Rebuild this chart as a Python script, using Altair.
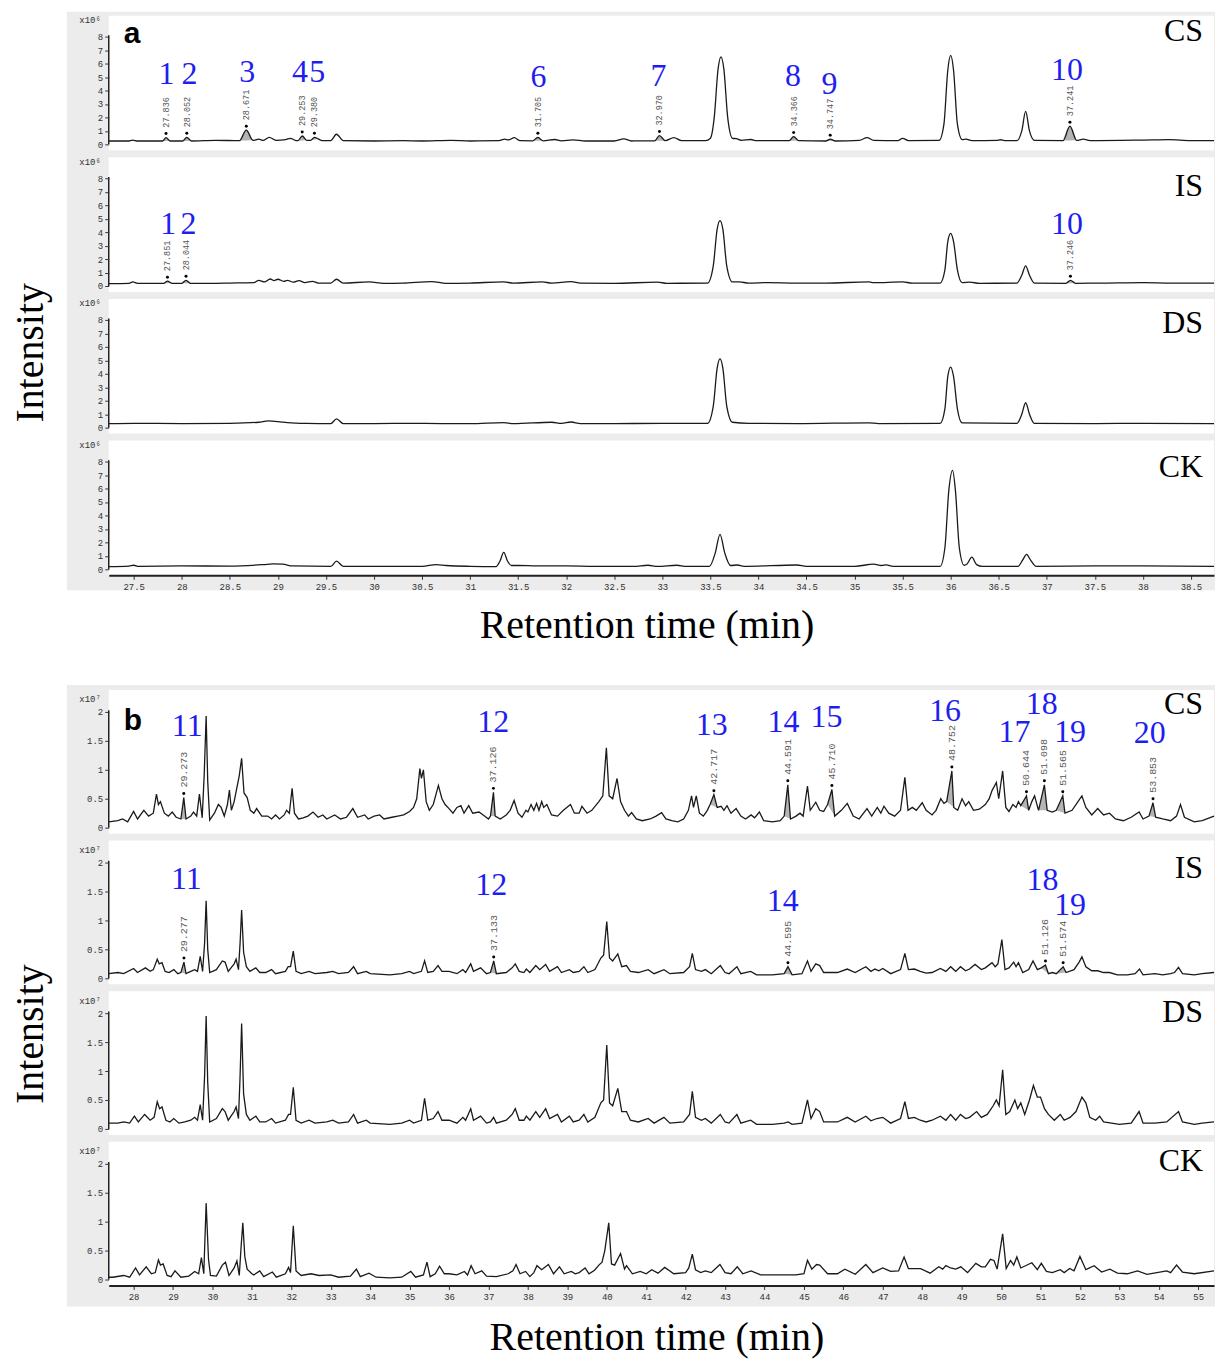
import altair as alt
import pandas as pd

BLUE = "#1e1ef0"
SERIF = "Liberation Serif"
MONO = "Liberation Mono"
SAMPLES = ["CS", "IS", "DS", "CK"]

# ---------------- axis ticks / domains ----------------
A_XTICKS = [27.5, 28, 28.5, 29, 29.5, 30, 30.5, 31, 31.5, 32, 32.5, 33, 33.5, 34,
            34.5, 35, 35.5, 36, 36.5, 37, 37.5, 38, 38.5]
B_XTICKS = [28, 29, 30, 31, 32, 33, 34, 35, 36, 37, 38, 39, 40, 41, 42, 43, 44, 45,
            46, 47, 48, 49, 50, 51, 52, 53, 54, 55]
A_YTICKS = [0, 1, 2, 3, 4, 5, 6, 7, 8]
B_YTICKS = [0, 0.5, 1, 1.5, 2]
A_XDOMAIN = [27.24, 38.74]
B_XDOMAIN = [27.37, 55.40]

# ---------------- panel a traces (time, intensity x10^6) ----------------
A_CS = [(27.24,0.25),(27.44,0.25),(27.49,0.32),(27.54,0.25),(27.80,0.25),(27.836,0.5),(27.88,0.25),
        (28.01,0.25),(28.052,0.52),(28.10,0.25),(28.35,0.3),(28.60,0.27),(28.671,1.05),(28.74,0.3),
        (28.80,0.38),(28.85,0.3),(28.91,0.52),(28.98,0.3),(29.08,0.35),(29.13,0.45),(29.18,0.3),
        (29.21,0.28),(29.253,0.62),(29.30,0.3),(29.34,0.3),(29.38,0.52),(29.42,0.4),(29.46,0.28),
        (29.55,0.28),(29.61,0.75),(29.68,0.27),(30.0,0.25),(30.3,0.27),(30.5,0.25),(30.8,0.3),
        (31.0,0.25),(31.30,0.27),(31.36,0.38),(31.40,0.33),(31.46,0.5),(31.52,0.27),(31.65,0.26),
        (31.705,0.52),(31.76,0.26),(31.88,0.36),(31.95,0.26),(32.07,0.33),(32.2,0.25),(32.5,0.25),
        (32.6,0.4),(32.68,0.25),(32.92,0.26),(32.97,0.65),(33.03,0.27),(33.12,0.5),(33.2,0.27),
        (33.45,0.27),(33.50,0.45),(33.54,2.0),(33.58,5.6),(33.61,6.5),(33.64,5.6),(33.68,2.0),
        (33.73,0.45),(33.77,0.42),(33.82,0.3),(33.92,0.36),(33.98,0.27),(34.32,0.27),(34.366,0.58),
        (34.42,0.27),(34.70,0.25),(34.747,0.38),(34.80,0.25),(35.05,0.3),(35.13,0.5),(35.2,0.3),
        (35.45,0.28),(35.5,0.45),(35.56,0.28),(35.88,0.3),(35.93,1.5),(35.97,5.5),(36.0,6.6),
        (36.03,5.5),(36.07,1.5),(36.12,0.35),(36.16,0.38),(36.22,0.27),(36.48,0.3),(36.52,0.34),
        (36.56,0.28),(36.69,0.28),(36.74,1.0),(36.78,2.45),(36.82,1.0),(36.87,0.3),(37.17,0.28),
        (37.241,1.35),(37.31,0.3),(37.38,0.38),(37.45,0.28),(38.0,0.32),(38.27,0.35),(38.5,0.28),
        (38.74,0.28)]
A_IS = [(27.24,0.18),(27.45,0.2),(27.49,0.3),(27.54,0.2),(27.81,0.2),(27.851,0.36),(27.9,0.2),
        (28.0,0.2),(28.044,0.42),(28.09,0.2),(28.3,0.2),(28.5,0.22),(28.75,0.25),(28.8,0.42),
        (28.86,0.3),(28.92,0.52),(28.96,0.4),(29.0,0.5),(29.06,0.35),(29.1,0.42),(29.16,0.28),
        (29.22,0.4),(29.28,0.25),(29.36,0.35),(29.42,0.22),(29.55,0.22),(29.61,0.5),(29.68,0.22),
        (29.95,0.3),(30.1,0.2),(30.3,0.22),(30.6,0.33),(30.75,0.2),(31.0,0.22),(31.35,0.3),
        (31.45,0.22),(31.75,0.3),(31.85,0.22),(32.05,0.32),(32.15,0.22),(32.5,0.2),(32.95,0.28),
        (33.05,0.2),(33.47,0.22),(33.53,1.5),(33.57,4.2),(33.60,4.85),(33.63,4.2),(33.67,1.5),
        (33.73,0.3),(33.8,0.3),(33.9,0.22),(34.1,0.25),(34.4,0.22),(34.7,0.22),(35.15,0.3),
        (35.2,0.25),(35.5,0.3),(35.6,0.22),(35.89,0.22),(35.94,1.2),(35.97,3.3),(36.0,3.9),
        (36.03,3.3),(36.07,1.2),(36.12,0.25),(36.2,0.28),(36.3,0.2),(36.69,0.22),(36.74,0.8),
        (36.78,1.5),(36.82,0.8),(36.87,0.22),(37.2,0.2),(37.246,0.42),(37.3,0.2),(37.6,0.22),
        (38.0,0.25),(38.3,0.22),(38.74,0.22)]
A_DS = [(27.24,0.3),(27.5,0.32),(28.0,0.3),(28.5,0.32),(28.8,0.4),(28.9,0.5),(29.0,0.45),
        (29.1,0.38),(29.3,0.32),(29.55,0.3),(29.61,0.65),(29.68,0.3),(30.0,0.3),(30.4,0.32),
        (30.7,0.3),(31.0,0.3),(31.35,0.38),(31.45,0.3),(31.85,0.4),(31.95,0.32),(32.05,0.42),
        (32.15,0.3),(32.5,0.3),(33.0,0.32),(33.47,0.32),(33.53,1.6),(33.57,4.4),(33.60,5.1),
        (33.63,4.4),(33.67,1.6),(33.73,0.4),(33.9,0.32),(34.4,0.3),(35.15,0.36),(35.25,0.3),
        (35.89,0.32),(35.94,1.4),(35.97,3.8),(36.0,4.5),(36.03,3.8),(36.07,1.4),(36.12,0.35),
        (36.69,0.32),(36.74,1.0),(36.78,1.85),(36.82,1.0),(36.87,0.32),(37.5,0.3),(38.0,0.32),
        (38.74,0.3)]
A_CK = [(27.24,0.2),(27.45,0.24),(27.5,0.3),(27.55,0.22),(28.0,0.25),(28.5,0.24),(28.85,0.35),
        (28.95,0.4),(29.05,0.38),(29.15,0.25),(29.55,0.22),(29.61,0.6),(29.68,0.22),(30.0,0.22),
        (30.5,0.22),(30.65,0.35),(30.75,0.28),(31.0,0.22),(31.27,0.2),(31.31,0.6),(31.35,1.25),
        (31.39,0.6),(31.43,0.28),(31.5,0.28),(31.7,0.25),(32.0,0.25),(32.3,0.22),(32.7,0.22),
        (32.85,0.3),(32.95,0.22),(33.15,0.3),(33.25,0.22),(33.49,0.22),(33.55,1.2),(33.60,2.6),
        (33.65,1.2),(33.71,0.28),(33.78,0.32),(33.85,0.22),(34.4,0.32),(34.5,0.22),(35.0,0.22),
        (35.2,0.38),(35.28,0.28),(35.33,0.33),(35.4,0.22),(35.89,0.22),(35.94,1.6),(35.98,5.8),
        (36.02,7.35),(36.05,5.8),(36.09,1.6),(36.14,0.3),(36.17,0.4),(36.22,0.9),(36.27,0.35),
        (36.33,0.22),(36.70,0.22),(36.75,0.7),(36.79,1.1),(36.83,0.7),(36.89,0.22),(37.5,0.25),
        (38.0,0.25),(38.74,0.22)]

# ---------------- panel b traces (time, intensity x10^7) ----------------
B_CS = [(27.37,0.1),(27.6,0.12),(27.72,0.15),(27.85,0.1),(28.0,0.28),(28.1,0.15),(28.26,0.3),
        (28.38,0.2),(28.5,0.25),(28.58,0.58),(28.63,0.4),(28.68,0.45),(28.78,0.25),(28.88,0.2),
        (28.98,0.27),(29.08,0.18),(29.2,0.15),(29.273,0.52),(29.33,0.15),(29.45,0.2),(29.52,0.27),
        (29.6,0.2),(29.67,0.58),(29.74,0.17),(29.79,0.9),(29.84,1.93),(29.88,0.8),(29.93,0.13),
        (30.05,0.25),(30.15,0.4),(30.22,0.35),(30.3,0.2),(30.38,0.4),(30.43,0.65),(30.48,0.3),
        (30.55,0.45),(30.68,0.9),(30.74,1.2),(30.8,0.6),(30.88,0.52),(30.96,0.3),(31.05,0.25),
        (31.12,0.33),(31.25,0.2),(31.4,0.2),(31.5,0.15),(31.6,0.22),(31.7,0.15),(31.82,0.22),
        (31.88,0.3),(31.95,0.25),(32.02,0.68),(32.08,0.25),(32.18,0.15),(32.3,0.17),(32.42,0.2),
        (32.55,0.27),(32.68,0.18),(32.8,0.22),(32.9,0.15),(33.1,0.22),(33.25,0.15),(33.4,0.18),
        (33.56,0.33),(33.68,0.18),(33.86,0.22),(33.95,0.15),(34.1,0.2),(34.24,0.22),(34.35,0.15),
        (34.55,0.18),(34.7,0.2),(34.85,0.22),(35.0,0.28),(35.1,0.35),(35.18,0.5),(35.26,1.02),
        (35.3,0.85),(35.35,1.0),(35.42,0.45),(35.5,0.3),(35.6,0.4),(35.73,0.73),(35.82,0.5),
        (35.9,0.4),(36.0,0.33),(36.1,0.25),(36.2,0.35),(36.3,0.38),(36.38,0.25),(36.5,0.38),
        (36.6,0.25),(36.76,0.27),(36.9,0.2),(37.0,0.15),(37.05,0.2),(37.126,0.61),(37.17,0.2),
        (37.3,0.15),(37.45,0.22),(37.55,0.3),(37.65,0.47),(37.75,0.25),(37.85,0.18),(37.95,0.3),
        (38.0,0.27),(38.08,0.4),(38.15,0.3),(38.22,0.42),(38.28,0.3),(38.35,0.45),(38.4,0.35),
        (38.48,0.4),(38.6,0.22),(38.75,0.2),(38.9,0.3),(39.08,0.4),(39.18,0.25),(39.3,0.25),
        (39.37,0.37),(39.5,0.25),(39.62,0.3),(39.8,0.45),(39.9,0.55),(39.99,1.38),(40.06,0.55),
        (40.15,0.5),(40.26,0.85),(40.35,0.45),(40.45,0.3),(40.55,0.2),(40.63,0.26),(40.75,0.15),
        (40.9,0.12),(41.1,0.15),(41.25,0.2),(41.39,0.26),(41.5,0.15),(41.65,0.12),(41.8,0.1),
        (41.95,0.15),(42.07,0.3),(42.15,0.55),(42.2,0.35),(42.27,0.55),(42.35,0.25),(42.45,0.2),
        (42.55,0.3),(42.62,0.4),(42.717,0.57),(42.8,0.35),(42.9,0.37),(42.97,0.3),(43.05,0.38),
        (43.15,0.25),(43.28,0.33),(43.4,0.2),(43.52,0.15),(43.66,0.22),(43.75,0.17),(43.87,0.27),
        (43.98,0.12),(44.2,0.1),(44.4,0.12),(44.5,0.2),(44.591,0.74),(44.66,0.15),(44.8,0.2),
        (44.9,0.25),(44.98,0.2),(45.09,0.72),(45.16,0.3),(45.3,0.44),(45.4,0.3),(45.5,0.28),
        (45.6,0.4),(45.71,0.66),(45.78,0.2),(45.95,0.3),(46.1,0.42),(46.25,0.2),(46.4,0.15),
        (46.6,0.33),(46.72,0.2),(46.86,0.35),(46.95,0.25),(47.03,0.37),(47.15,0.25),(47.3,0.2),
        (47.45,0.3),(47.56,0.87),(47.64,0.3),(47.75,0.35),(47.85,0.3),(48.0,0.43),(48.1,0.3),
        (48.25,0.22),(48.35,0.3),(48.47,0.5),(48.55,0.42),(48.62,0.45),(48.752,0.98),(48.8,0.35),
        (48.9,0.3),(49.01,0.5),(49.1,0.38),(49.18,0.45),(49.3,0.3),(49.45,0.32),(49.6,0.4),
        (49.7,0.5),(49.77,0.64),(49.88,0.78),(49.94,0.5),(50.04,0.98),(50.12,0.35),(50.2,0.28),
        (50.3,0.4),(50.38,0.35),(50.44,0.45),(50.5,0.38),(50.644,0.55),(50.7,0.3),(50.78,0.45),
        (50.85,0.55),(50.95,0.3),(51.098,0.74),(51.17,0.3),(51.3,0.27),(51.4,0.3),(51.565,0.55),
        (51.62,0.25),(51.8,0.3),(51.95,0.45),(52.05,0.55),(52.15,0.35),(52.3,0.22),(52.45,0.33),
        (52.6,0.22),(52.75,0.25),(52.9,0.15),(53.1,0.12),(53.3,0.18),(53.5,0.27),(53.6,0.15),
        (53.75,0.2),(53.853,0.43),(53.92,0.18),(54.1,0.15),(54.3,0.12),(54.45,0.2),(54.55,0.4),
        (54.65,0.18),(54.9,0.1),(55.1,0.12),(55.4,0.2)]
B_IS = [(27.37,0.08),(27.6,0.1),(27.75,0.08),(28.0,0.17),(28.1,0.1),(28.3,0.18),(28.42,0.12),
        (28.5,0.15),(28.6,0.33),(28.65,0.25),(28.72,0.27),(28.8,0.12),(28.9,0.1),(29.02,0.15),
        (29.12,0.08),(29.2,0.1),(29.277,0.28),(29.33,0.08),(29.45,0.12),(29.55,0.15),(29.62,0.12),
        (29.69,0.38),(29.75,0.12),(29.8,0.6),(29.84,1.34),(29.88,0.5),(29.93,0.1),(30.1,0.15),
        (30.25,0.3),(30.32,0.28),(30.4,0.12),(30.55,0.25),(30.6,0.33),(30.66,0.15),(30.7,0.6),
        (30.74,1.18),(30.79,0.45),(30.86,0.2),(30.95,0.12),(31.1,0.18),(31.2,0.1),(31.35,0.1),
        (31.5,0.15),(31.6,0.08),(31.85,0.12),(31.92,0.2),(31.98,0.2),(32.05,0.47),(32.12,0.12),
        (32.25,0.08),(32.45,0.12),(32.6,0.08),(32.9,0.1),(33.05,0.12),(33.2,0.08),(33.45,0.1),
        (33.58,0.2),(33.68,0.08),(33.9,0.12),(34.0,0.08),(34.5,0.06),(34.8,0.08),(35.0,0.12),
        (35.1,0.08),(35.3,0.12),(35.38,0.3),(35.46,0.1),(35.6,0.12),(35.72,0.22),(35.82,0.12),
        (36.0,0.12),(36.2,0.08),(36.35,0.15),(36.42,0.1),(36.55,0.25),(36.62,0.12),(36.8,0.18),
        (36.95,0.08),(37.05,0.1),(37.133,0.3),(37.2,0.08),(37.45,0.1),(37.6,0.18),(37.68,0.25),
        (37.78,0.12),(37.9,0.1),(37.96,0.16),(38.05,0.1),(38.2,0.22),(38.3,0.15),(38.45,0.24),
        (38.55,0.12),(38.75,0.2),(38.85,0.1),(39.05,0.15),(39.15,0.1),(39.3,0.12),(39.42,0.2),
        (39.52,0.1),(39.7,0.15),(39.85,0.35),(39.92,0.4),(40.0,0.98),(40.07,0.35),(40.15,0.3),
        (40.28,0.42),(40.38,0.2),(40.5,0.22),(40.6,0.12),(40.8,0.1),(41.05,0.15),(41.2,0.08),
        (41.45,0.15),(41.6,0.08),(41.95,0.1),(42.1,0.2),(42.17,0.43),(42.25,0.15),(42.4,0.12),
        (42.5,0.15),(42.65,0.08),(42.88,0.22),(43.0,0.1),(43.1,0.08),(43.3,0.2),(43.4,0.08),
        (43.65,0.12),(43.8,0.06),(44.2,0.06),(44.5,0.08),(44.595,0.2),(44.7,0.06),(44.95,0.08),
        (45.09,0.3),(45.18,0.12),(45.3,0.25),(45.4,0.22),(45.5,0.1),(45.85,0.1),(46.1,0.16),
        (46.3,0.1),(46.57,0.2),(46.7,0.12),(46.8,0.16),(46.9,0.13),(47.0,0.17),(47.2,0.08),
        (47.45,0.15),(47.56,0.43),(47.65,0.15),(47.8,0.16),(47.95,0.12),(48.1,0.09),(48.25,0.1),
        (48.46,0.17),(48.6,0.12),(48.72,0.2),(48.85,0.12),(48.97,0.2),(49.1,0.13),(49.2,0.16),
        (49.34,0.24),(49.5,0.15),(49.6,0.18),(49.77,0.27),(49.85,0.2),(49.92,0.25),(50.02,0.67),
        (50.1,0.15),(50.2,0.18),(50.32,0.28),(50.38,0.2),(50.44,0.27),(50.55,0.1),(50.7,0.15),
        (50.81,0.3),(50.92,0.15),(51.02,0.18),(51.126,0.23),(51.2,0.08),(51.3,0.1),(51.4,0.08),
        (51.574,0.2),(51.65,0.1),(51.85,0.15),(51.98,0.28),(52.05,0.37),(52.15,0.2),(52.3,0.13),
        (52.45,0.13),(52.6,0.1),(52.75,0.1),(52.95,0.06),(53.2,0.06),(53.4,0.08),(53.51,0.16),
        (53.6,0.06),(53.9,0.08),(54.1,0.06),(54.3,0.08),(54.4,0.1),(54.5,0.19),(54.6,0.08),
        (54.9,0.06),(55.1,0.08),(55.4,0.1)]
B_DS = [(27.37,0.1),(27.6,0.1),(27.75,0.12),(27.9,0.1),(28.02,0.22),(28.12,0.12),(28.28,0.25),
        (28.42,0.15),(28.52,0.2),(28.6,0.47),(28.66,0.35),(28.72,0.38),(28.82,0.15),(28.92,0.12),
        (29.02,0.18),(29.15,0.1),(29.3,0.12),(29.45,0.15),(29.55,0.2),(29.62,0.15),(29.69,0.42),
        (29.75,0.15),(29.8,0.9),(29.84,1.95),(29.88,0.8),(29.93,0.12),(30.1,0.18),(30.25,0.35),
        (30.32,0.3),(30.4,0.15),(30.55,0.3),(30.6,0.38),(30.66,0.18),(30.7,0.9),(30.74,1.82),
        (30.79,0.6),(30.86,0.25),(30.95,0.15),(31.1,0.22),(31.2,0.12),(31.35,0.12),(31.5,0.18),
        (31.6,0.1),(31.85,0.15),(31.93,0.25),(31.98,0.25),(32.05,0.72),(32.12,0.15),(32.25,0.1),
        (32.45,0.15),(32.6,0.1),(32.9,0.12),(33.05,0.15),(33.2,0.1),(33.45,0.12),(33.58,0.25),
        (33.68,0.1),(33.9,0.15),(34.0,0.1),(34.5,0.08),(34.8,0.1),(35.0,0.15),(35.1,0.1),
        (35.3,0.15),(35.38,0.53),(35.46,0.15),(35.6,0.18),(35.72,0.3),(35.82,0.15),(36.0,0.15),
        (36.2,0.1),(36.35,0.2),(36.42,0.15),(36.55,0.35),(36.62,0.15),(36.8,0.22),(36.95,0.1),
        (37.05,0.12),(37.13,0.2),(37.2,0.1),(37.45,0.15),(37.6,0.25),(37.68,0.35),(37.78,0.15),
        (37.9,0.15),(37.96,0.22),(38.05,0.15),(38.2,0.3),(38.3,0.2),(38.45,0.35),(38.55,0.18),
        (38.75,0.25),(38.85,0.12),(39.05,0.22),(39.15,0.12),(39.3,0.15),(39.42,0.25),(39.52,0.12),
        (39.7,0.2),(39.85,0.45),(39.92,0.5),(40.0,1.45),(40.07,0.45),(40.15,0.4),(40.28,0.7),
        (40.38,0.3),(40.5,0.3),(40.6,0.15),(40.8,0.12),(41.05,0.18),(41.2,0.1),(41.45,0.2),
        (41.6,0.1),(41.95,0.12),(42.1,0.25),(42.17,0.65),(42.25,0.2),(42.4,0.15),(42.5,0.18),
        (42.65,0.1),(42.88,0.25),(43.0,0.12),(43.1,0.1),(43.3,0.25),(43.4,0.1),(43.65,0.15),
        (43.8,0.08),(44.2,0.08),(44.5,0.1),(44.6,0.12),(44.7,0.08),(44.95,0.1),(45.09,0.5),
        (45.18,0.18),(45.3,0.35),(45.4,0.3),(45.5,0.12),(45.85,0.12),(46.1,0.2),(46.3,0.12),
        (46.57,0.22),(46.7,0.14),(46.85,0.18),(47.0,0.2),(47.2,0.1),(47.45,0.18),(47.56,0.47),
        (47.65,0.18),(47.8,0.2),(47.95,0.15),(48.1,0.12),(48.25,0.15),(48.46,0.22),(48.6,0.15),
        (48.72,0.25),(48.85,0.15),(48.97,0.25),(49.1,0.18),(49.2,0.2),(49.38,0.3),(49.5,0.2),
        (49.65,0.25),(49.8,0.4),(49.88,0.5),(49.95,0.4),(50.04,1.02),(50.12,0.25),(50.22,0.3),
        (50.35,0.5),(50.42,0.35),(50.5,0.45),(50.6,0.25),(50.72,0.5),(50.82,0.75),(50.92,0.55),
        (51.0,0.55),(51.1,0.35),(51.2,0.25),(51.35,0.15),(51.5,0.25),(51.6,0.15),(51.75,0.2),
        (51.9,0.3),(52.05,0.55),(52.15,0.45),(52.25,0.2),(52.4,0.15),(52.5,0.22),(52.6,0.12),
        (52.8,0.1),(53.0,0.08),(53.3,0.1),(53.5,0.3),(53.6,0.1),(53.9,0.1),(54.2,0.12),(54.5,0.3),
        (54.6,0.12),(54.9,0.08),(55.1,0.1),(55.4,0.12)]
B_CK = [(27.37,0.04),(27.47,0.04),(27.75,0.07),(27.9,0.04),(28.05,0.2),(28.15,0.08),(28.32,0.22),
        (28.45,0.1),(28.55,0.12),(28.63,0.34),(28.68,0.25),(28.75,0.27),(28.85,0.07),(28.95,0.05),
        (29.05,0.15),(29.2,0.04),(29.4,0.06),(29.55,0.14),(29.65,0.1),(29.72,0.38),(29.78,0.1),
        (29.84,1.32),(29.9,0.35),(29.95,0.07),(30.1,0.06),(30.25,0.25),(30.33,0.3),(30.42,0.07),
        (30.55,0.2),(30.62,0.32),(30.68,0.07),(30.73,0.6),(30.77,0.98),(30.82,0.4),(30.88,0.18),
        (31.0,0.1),(31.05,0.08),(31.2,0.15),(31.3,0.05),(31.52,0.13),(31.62,0.04),(31.85,0.1),
        (31.93,0.21),(31.98,0.12),(32.05,0.93),(32.12,0.15),(32.25,0.07),(32.5,0.1),(32.7,0.07),
        (33.0,0.08),(33.2,0.04),(33.5,0.06),(33.65,0.18),(33.75,0.05),(33.97,0.11),(34.15,0.04),
        (34.5,0.03),(34.8,0.04),(35.03,0.14),(35.15,0.04),(35.35,0.08),(35.44,0.3),(35.52,0.05),
        (35.65,0.1),(35.76,0.23),(35.88,0.1),(36.0,0.1),(36.2,0.08),(36.39,0.14),(36.47,0.08),
        (36.56,0.24),(36.66,0.1),(36.83,0.15),(36.95,0.06),(37.2,0.05),(37.5,0.1),(37.62,0.15),
        (37.7,0.26),(37.8,0.1),(37.94,0.14),(38.05,0.05),(38.15,0.12),(38.23,0.24),(38.35,0.17),
        (38.52,0.26),(38.65,0.1),(38.8,0.22),(38.92,0.1),(39.1,0.14),(39.2,0.1),(39.3,0.12),
        (39.45,0.2),(39.55,0.1),(39.69,0.16),(39.8,0.25),(39.88,0.3),(39.95,0.5),(40.05,0.98),
        (40.12,0.27),(40.2,0.25),(40.35,0.45),(40.45,0.18),(40.5,0.24),(40.65,0.1),(40.85,0.14),
        (41.0,0.1),(41.14,0.17),(41.3,0.11),(41.47,0.21),(41.7,0.1),(42.0,0.12),(42.08,0.2),
        (42.17,0.44),(42.25,0.17),(42.38,0.12),(42.5,0.15),(42.65,0.12),(42.87,0.26),(43.0,0.12),
        (43.15,0.1),(43.31,0.22),(43.45,0.1),(43.66,0.15),(43.9,0.08),(44.3,0.08),(44.8,0.08),
        (45.0,0.1),(45.09,0.33),(45.2,0.18),(45.32,0.26),(45.4,0.25),(45.6,0.1),(45.85,0.1),
        (46.04,0.18),(46.3,0.09),(46.57,0.26),(46.75,0.12),(47.0,0.2),(47.2,0.14),(47.4,0.15),
        (47.54,0.39),(47.65,0.19),(47.96,0.19),(48.2,0.11),(48.42,0.22),(48.52,0.18),(48.6,0.24),
        (48.72,0.2),(48.85,0.18),(48.98,0.22),(49.15,0.12),(49.36,0.28),(49.5,0.22),(49.6,0.22),
        (49.73,0.35),(49.82,0.33),(49.9,0.18),(50.04,0.79),(50.13,0.19),(50.24,0.33),(50.32,0.25),
        (50.4,0.39),(50.5,0.2),(50.78,0.29),(50.92,0.17),(51.02,0.28),(51.15,0.14),(51.3,0.12),
        (51.5,0.17),(51.6,0.12),(51.74,0.19),(51.85,0.15),(52.0,0.4),(52.15,0.17),(52.36,0.24),
        (52.55,0.13),(52.76,0.18),(52.95,0.11),(53.2,0.1),(53.46,0.15),(53.7,0.09),(54.2,0.15),
        (54.3,0.12),(54.45,0.25),(54.6,0.13),(54.9,0.1),(55.4,0.15)]

# ---------------- annotated peaks ----------------
A_CS_RT = [27.836, 28.052, 28.671, 29.253, 29.380, 31.705, 32.970, 34.366, 34.747, 37.241]
A_IS_RT = [27.851, 28.044, 37.246]
B_CS_RT = [29.273, 37.126, 42.717, 44.591, 45.710, 48.752, 50.644, 51.098, 51.565, 53.853]
B_IS_RT = [29.277, 37.133, 44.595, 51.126, 51.574]

A_CS_NUM = [("1", 27.84, 5.2), ("2", 28.08, 5.2), ("3", 28.68, 5.4), ("4", 29.23, 5.4),
            ("5", 29.41, 5.4), ("6", 31.71, 5.0), ("7", 32.96, 5.1), ("8", 34.36, 5.1),
            ("9", 34.74, 4.5), ("10", 37.21, 5.55)]
A_IS_NUM = [("1", 27.86, 4.63), ("2", 28.07, 4.63), ("10", 37.21, 4.63)]
B_CS_NUM = [("11", 29.36, 1.75), ("12", 37.12, 1.82), ("13", 42.66, 1.78), ("14", 44.48, 1.82),
            ("15", 45.57, 1.91), ("16", 48.58, 2.02), ("17", 50.34, 1.66), ("18", 51.03, 2.14),
            ("19", 51.75, 1.66), ("20", 53.77, 1.64)]
B_IS_NUM = [("11", 29.34, 1.72), ("12", 37.07, 1.62), ("14", 44.46, 1.34), ("18", 51.05, 1.70),
            ("19", 51.75, 1.27)]

W = 1108

PANEL_A = dict(H=135, xdom=A_XDOMAIN, ydom=[-0.444, 9.556], xticks=A_XTICKS, yticks=A_YTICKS,
               yrule=8.1, exp="x10\u2076", traces=[A_CS, A_IS, A_DS, A_CK],
               rts=[A_CS_RT, A_IS_RT, [], []], nums=[A_CS_NUM, A_IS_NUM, [], []],
               label_y=[15, 29, 24, 26], interp="monotone", rt_font=8.5, title_x=539,
               title_pad=14, letter="a", letter_y=27, int_y=54, gray=(-4, 576), exp_y=4)
PANEL_B = dict(H=144, xdom=B_XDOMAIN, ydom=[-0.103, 2.379], xticks=B_XTICKS, yticks=B_YTICKS,
               yrule=2.03, exp="x10\u2077", traces=[B_CS, B_IS, B_DS, B_CK],
               rts=[B_CS_RT, B_IS_RT, [], []], nums=[B_CS_NUM, B_IS_NUM, [], []],
               label_y=[14, 27, 21, 19], interp="linear", rt_font=10, title_x=549,
               title_pad=16, letter="b", letter_y=40, int_y=43, gray=(-5, 618), exp_y=9)


def peak_tables(pts, rts):
    area_rows, mark_rows = [], []
    for k, rt in enumerate(rts):
        i = min(range(len(pts)), key=lambda j: abs(pts[j][0] - rt))
        t0, v0 = pts[i - 1]
        t1, v1 = pts[i]
        t2, v2 = pts[i + 1]
        b1 = v0 + (v2 - v0) * (t1 - t0) / (t2 - t0)
        area_rows += [dict(pid=k, t=t0, v=v0, b=v0), dict(pid=k, t=t1, v=v1, b=b1),
                      dict(pid=k, t=t2, v=v2, b=v2)]
        mark_rows.append(dict(t=t1, v=v1, lab=f"{rt:.3f}"))
    return pd.DataFrame(area_rows), pd.DataFrame(mark_rows)


def one():
    return pd.DataFrame({"k": [0]})


def subplot(P, idx):
    H = P["H"]
    xs = alt.Scale(domain=P["xdom"], nice=False, zero=False)
    ys = alt.Scale(domain=P["ydom"], nice=False, zero=False)
    bottom = idx == 3
    if bottom:
        xaxis = alt.Axis(values=P["xticks"], format="~g", labelFont=MONO, labelFontSize=9,
                         labelColor="#333", tickColor="#333", tickSize=4, domainColor="#222",
                         domainWidth=2, labelPadding=3, labelOverlap=False, labelFlush=False,
                         grid=False, zindex=1,
                         title="Retention time (min)", titleFont=SERIF, titleFontSize=40,
                         titleFontWeight="normal", titleColor="black",
                         titlePadding=P["title_pad"], titleX=P["title_x"])
    else:
        xaxis = None
    yaxis = alt.Axis(values=P["yticks"], format="~g", domain=False, tickSize=4, tickColor="#333",
                     labelFont=MONO, labelFontSize=9, labelColor="#333", labelPadding=2,
                     grid=False, zindex=1, title=P["exp"], titleAngle=0, titleAlign="left",
                     titleBaseline="middle", titleX=-30, titleY=P["exp_y"], titleFont=MONO,
                     titleFontSize=9, titleFontWeight="normal", titleColor="#333")

    def X(f="t:Q"):
        return alt.X(f, scale=xs, axis=xaxis, title="Retention time (min)" if bottom else None)

    def Y(f="v:Q"):
        return alt.Y(f, scale=ys, axis=yaxis, title=P["exp"])

    layers = []
    if idx == 0:
        g0, g1 = P["gray"]
        layers.append(alt.Chart(one()).mark_rect(color="#ececec").encode(
            x=alt.value(-42), x2=alt.value(W + 1), y=alt.value(g0), y2=alt.value(g1)))
        layers.append(alt.Chart(one()).mark_rect(color="white").encode(
            x=alt.value(0), x2=alt.value(W), y=alt.value(0), y2=alt.value(H)))

    pts = P["traces"][idx]
    rts = P["rts"][idx]
    tdf = pd.DataFrame(pts, columns=["t", "v"])

    if rts:
        adf, mdf = peak_tables(pts, rts)
        layers.append(alt.Chart(adf).mark_area(color="#b4b4b4", interpolate=P["interp"]).encode(
            x=X(), y=Y(), y2="b:Q", detail="pid:N"))

    layers.append(alt.Chart(tdf).mark_line(color="#1a1a1a", strokeWidth=1.3,
                                           interpolate=P["interp"]).encode(x=X(), y=Y()))

    # y-axis line from 0 up to the top tick
    rdf = pd.DataFrame({"y0": [0.0], "y1": [P["yrule"]]})
    layers.append(alt.Chart(rdf).mark_rule(color="#222", strokeWidth=1.5).encode(
        x=alt.value(0), y=Y("y0:Q"), y2="y1:Q"))

    if rts:
        layers.append(alt.Chart(mdf).mark_point(filled=True, size=9, color="black",
                                                opacity=1, yOffset=-4).encode(x=X(), y=Y()))
        layers.append(alt.Chart(mdf).mark_text(angle=270, align="left", baseline="middle",
                                               dx=10, font=MONO, fontSize=P["rt_font"],
                                               color="#555").encode(x=X(), y=Y(), text="lab:N"))

    nums = P["nums"][idx]
    if nums:
        ndf = pd.DataFrame(nums, columns=["n", "t", "v"])
        layers.append(alt.Chart(ndf).mark_text(font=SERIF, fontSize=32, color=BLUE,
                                               align="center", baseline="middle").encode(
            x=X(), y=Y(), text="n:N"))

    sdf = pd.DataFrame({"s": [SAMPLES[idx]]})
    layers.append(alt.Chart(sdf).mark_text(font=SERIF, fontSize=32, color="black",
                                           align="right", baseline="middle").encode(
        x=alt.value(W - 11), y=alt.value(P["label_y"][idx]), text="s:N"))

    if idx == 0:
        ldf = pd.DataFrame({"s": [P["letter"]]})
        layers.append(alt.Chart(ldf).mark_text(font="Liberation Sans", fontSize=30,
                                               fontWeight="bold", color="black",
                                               align="left", baseline="alphabetic").encode(
            x=alt.value(15), y=alt.value(P["letter_y"]), text="s:N"))
    if idx == 2:
        idf = pd.DataFrame({"s": ["Intensity"]})
        layers.append(alt.Chart(idf).mark_text(font=SERIF, fontSize=40, color="black",
                                               angle=270, align="center",
                                               baseline="middle").encode(
            x=alt.value(-78), y=alt.value(P["int_y"]), text="s:N"))

    return alt.layer(*layers).properties(width=W, height=H)


def panel(P):
    return alt.vconcat(*[subplot(P, i) for i in range(4)], spacing=7, bounds="flush")


chart = alt.vconcat(panel(PANEL_A), panel(PANEL_B), spacing=40).properties(
    padding={"left": 2, "top": 2, "right": 0, "bottom": 0},
    background="white",
).configure_view(stroke=None, fill="white")

chart.save("out.html", embed_options={"renderer": "svg", "actions": False})
